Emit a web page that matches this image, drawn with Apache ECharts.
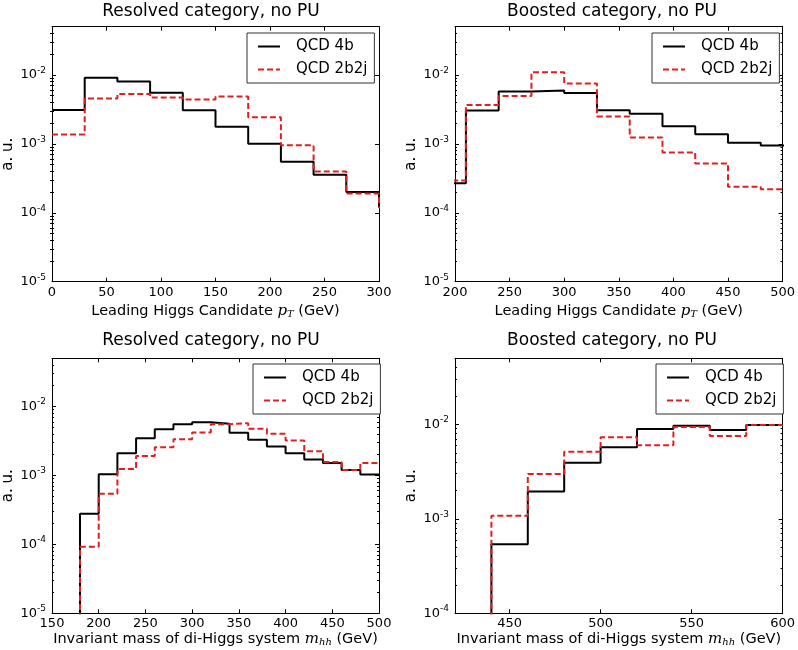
<!DOCTYPE html>
<html>
<head>
<meta charset="utf-8">
<script src="https://cdn.jsdelivr.net/npm/echarts@6/dist/echarts.min.js"></script>
<style>
  html, body { margin: 0; padding: 0; background: #fff; }
  #chart { width: 798px; height: 650px; }
</style>
</head>
<body>
<div id="chart"></div>
<script>
// ---------------- Data ----------------
// Panel 1: Resolved category, leading Higgs candidate pT (last bin 300-330 only shows as the drop at the edge)
const resPtEdges = [0, 30, 60, 90, 120, 150, 180, 210, 240, 270, 300, 330];
const resPt4b    = [3.1e-3, 9.05e-3, 8.0e-3, 5.5e-3, 3.06e-3, 1.77e-3, 1.0e-3, 5.5e-4, 3.56e-4, 2.0e-4, 1.2e-4];
const resPt2b2j  = [1.36e-3, 4.53e-3, 5.3e-3, 4.7e-3, 4.38e-3, 4.84e-3, 2.43e-3, 9.5e-4, 3.98e-4, 1.9e-4, 1.2e-4];

// Panel 2: Boosted category, leading Higgs candidate pT
const boostPtEdges = [180, 210, 240, 270, 300, 330, 360, 390, 420, 450, 480, 510];
const boostPt4b    = [2.69e-4, 3.04e-3, 5.74e-3, 5.93e-3, 5.48e-3, 3.08e-3, 2.72e-3, 1.80e-3, 1.38e-3, 1.04e-3, 9.45e-4];
const boostPt2b2j  = [2.94e-4, 3.67e-3, 4.96e-3, 1.09e-2, 7.49e-3, 2.49e-3, 1.24e-3, 7.49e-4, 5.19e-4, 2.38e-4, 2.2e-4];

// Panel 3: Resolved category, di-Higgs invariant mass
const resMhhEdges = [180, 200, 220, 240, 260, 280, 300, 320, 340, 360, 380, 400, 420, 440, 460, 480, 500];
const resMhh4b    = [2.77e-4, 1.04e-3, 2.1e-3, 3.47e-3, 4.69e-3, 5.54e-3, 5.93e-3, 5.6e-3, 4.15e-3, 3.28e-3, 2.62e-3, 2.1e-3, 1.70e-3, 1.51e-3, 1.2e-3, 1.03e-3];
const resMhh2b2j  = [9.2e-5, 5.4e-4, 1.24e-3, 1.92e-3, 2.57e-3, 3.36e-3, 4.2e-3, 5.54e-3, 5.73e-3, 4.74e-3, 4.01e-3, 3.21e-3, 2.25e-3, 1.57e-3, 1.2e-3, 1.51e-3];

// Panel 4: Boosted category, di-Higgs invariant mass
const boostMhhEdges = [440, 460, 480, 500, 520, 540, 560, 580, 600];
const boostMhh4b    = [5.37e-4, 1.95e-3, 3.93e-3, 5.71e-3, 8.93e-3, 9.68e-3, 8.7e-3, 9.84e-3];
const boostMhh2b2j  = [1.08e-3, 2.98e-3, 5.14e-3, 7.28e-3, 6.0e-3, 9.37e-3, 7.53e-3, 9.84e-3];

// Axis ranges / ticks
const seriesNames = ['QCD 4b', 'QCD 2b2j'];
const titles = ['Resolved category, no PU', 'Boosted category, no PU', 'Resolved category, no PU', 'Boosted category, no PU'];
const xRanges = [[0, 300], [200, 500], [150, 500], [420, 600]];
const xTicks = [
  [0, 50, 100, 150, 200, 250, 300],
  [200, 250, 300, 350, 400, 450, 500],
  [150, 200, 250, 300, 350, 400, 450, 500],
  [450, 500, 550, 600]
];
const yRanges = [[1e-5, 5e-2], [1e-5, 5e-2], [1e-5, 5e-2], [1e-4, 5e-2]];
const ptName  = 'Leading Higgs Candidate {i|p}{sub|T} (GeV)';
const mhhName = 'Invariant mass of di-Higgs system {i|m}{sub|hh} (GeV)';

// ---------------- Layout / style ----------------
const FONT = 'DejaVu Sans';
const FLOOR = 1e-9; // histogram step drops to zero (below the axis)
const grids = [
  { left: 50,  top: 26.7, width: 329, height: 255 },
  { left: 455, top: 26.7, width: 329, height: 255 },
  { left: 50,  top: 358.3, width: 329, height: 255 },
  { left: 455, top: 358.3, width: 329, height: 255 }
];
const titlePos = [[211, 3], [612, 3], [211, 332], [612, 332]];
const legendPos = [[247, 33], [652, 33], [253, 364], [656, 364]];
const xNameGap = [21, 21, 17, 17];
const riseAtStart = [false, true, true, true];
const dropAtEnd = [true, true, false, false];

function stepData(edges, vals, rise, drop) {
  const d = rise ? [[edges[0], FLOOR]] : [];
  vals.forEach((v, i) => d.push([edges[i], v]));
  d.push([edges[edges.length - 1], drop ? FLOOR : vals[vals.length - 1]]);
  return d;
}

const panels = [
  { edges: resPtEdges, a: resPt4b, b: resPt2b2j, name: ptName },
  { edges: boostPtEdges, a: boostPt4b, b: boostPt2b2j, name: ptName },
  { edges: resMhhEdges, a: resMhh4b, b: resMhh2b2j, name: mhhName },
  { edges: boostMhhEdges, a: boostMhh4b, b: boostMhh2b2j, name: mhhName }
];

function powLabel(v) {
  const l = Math.log10(v);
  const e = Math.round(l);
  if (Math.abs(l - e) > 1e-6) return '';
  return '{b|10}{s|' + (e < 0 ? '-' : '') + Math.abs(e) + '}';
}
const powRich = {
  b: { fontSize: 13, fontFamily: FONT, color: '#000' },
  s: { fontSize: 9, fontFamily: FONT, color: '#000', padding: [0, 0, 9, 0] }
};

function minorValues(ymin, ymax) {
  const out = [];
  for (let e = Math.round(Math.log10(ymin)); e <= 0; e++) {
    for (let k = 2; k <= 9; k++) {
      const v = k * Math.pow(10, e);
      if (v > ymin && v < ymax) out.push(v);
    }
  }
  return out;
}

const option = {
  animation: false,
  backgroundColor: '#fff',
  textStyle: { fontFamily: FONT },
  title: [], grid: [], xAxis: [], yAxis: [], legend: [], series: []
};

panels.forEach((p, g) => {
  option.grid.push(Object.assign({ containLabel: false }, grids[g]));
  option.title.push({
    text: titles[g], left: titlePos[g][0], top: titlePos[g][1], textAlign: 'center', padding: 0,
    textStyle: { fontSize: 17, fontWeight: 'normal', fontFamily: FONT, color: '#000' }
  });
  const axLine = { show: true, onZero: false, lineStyle: { color: '#000', width: 1 } };
  // bottom x axis
  option.xAxis.push({
    gridIndex: g, type: 'value', position: 'bottom', min: xRanges[g][0], max: xRanges[g][1],
    axisLine: axLine,
    axisTick: { inside: true, length: 4, lineStyle: { color: '#000' }, customValues: xTicks[g] },
    axisLabel: { fontSize: 13, color: '#000', fontFamily: FONT, margin: 4, customValues: xTicks[g] },
    splitLine: { show: false },
    name: p.name, nameLocation: 'middle', nameGap: xNameGap[g],
    nameTextStyle: {
      fontSize: 14.5, color: '#000', fontFamily: FONT,
      rich: {
        i: { fontSize: 15, fontStyle: 'italic', fontFamily: 'DejaVu Serif', color: '#000' },
        sub: { fontSize: 10, fontStyle: 'italic', fontFamily: 'DejaVu Serif', color: '#000', padding: [7, 0, 0, 0] }
      }
    }
  });
  // top x axis (ticks only)
  option.xAxis.push({
    gridIndex: g, type: 'value', position: 'top', min: xRanges[g][0], max: xRanges[g][1],
    axisLine: axLine,
    axisTick: { inside: true, length: 4, lineStyle: { color: '#000' }, customValues: xTicks[g] },
    axisLabel: { show: false },
    splitLine: { show: false }
  });
  const [ymin, ymax] = yRanges[g];
  const yBase = { gridIndex: g, type: 'log', logBase: 10, min: ymin, max: ymax, splitLine: { show: false } };
  // left y major
  option.yAxis.push(Object.assign({}, yBase, {
    position: 'left',
    axisLine: axLine,
    axisTick: { inside: true, length: 4, lineStyle: { color: '#000' } },
    axisLabel: { formatter: powLabel, rich: powRich, margin: 6 },
    name: 'a. u.', nameLocation: 'middle', nameGap: 36,
    nameTextStyle: { fontSize: 15, color: '#000', fontFamily: FONT }
  }));
  // right y major
  option.yAxis.push(Object.assign({}, yBase, {
    position: 'right',
    axisLine: axLine,
    axisTick: { inside: true, length: 4, lineStyle: { color: '#000' } },
    axisLabel: { show: false }
  }));
  const mv = minorValues(ymin, ymax);
  // left / right minor ticks
  ['left', 'right'].forEach(pos => {
    option.yAxis.push(Object.assign({}, yBase, {
      position: pos,
      axisLine: { show: false },
      axisTick: { inside: true, length: 2, lineStyle: { color: '#000' }, customValues: mv },
      axisLabel: { show: false }
    }));
  });
  option.legend.push({
    data: seriesNames, orient: 'vertical', left: legendPos[g][0], top: legendPos[g][1],
    padding: [6, 7, 6, 10], itemGap: 8, itemWidth: 22, itemHeight: 12,
    borderColor: '#333', borderWidth: 1, backgroundColor: '#fff', borderRadius: 0,
    itemStyle: { opacity: 0 },
    formatter: n => '{t|' + n + '}',
    textStyle: { fontSize: 15, color: '#000', fontFamily: FONT,
      rich: { t: { fontSize: 15, color: '#000', fontFamily: FONT, padding: [0, 0, 0, 11] } } }
  });
  const xi = g * 2, yi = g * 4;
  option.series.push({
    name: seriesNames[0], type: 'line', xAxisIndex: xi, yAxisIndex: yi, step: 'end',
    data: stepData(p.edges, p.a, riseAtStart[g], dropAtEnd[g]), symbol: 'none', showSymbol: false, clip: true, z: 2,
    lineStyle: { color: '#000', width: 2 }, itemStyle: { color: '#000' }
  });
  option.series.push({
    name: seriesNames[1], type: 'line', xAxisIndex: xi, yAxisIndex: yi, step: 'end',
    data: stepData(p.edges, p.b, riseAtStart[g], dropAtEnd[g]), symbol: 'none', showSymbol: false, clip: true, z: 3,
    lineStyle: { color: '#e0201f', width: 2, type: [6, 3] }, itemStyle: { color: '#e0201f' }
  });
});

const chart = echarts.init(document.getElementById('chart'), null, { renderer: 'canvas' });
chart.setOption(option);
</script>
</body>
</html>
